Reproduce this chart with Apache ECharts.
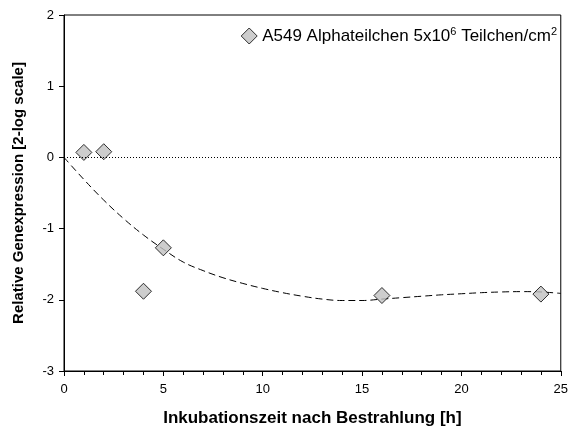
<!DOCTYPE html>
<html><head><meta charset="utf-8">
<script src="https://cdn.jsdelivr.net/npm/echarts@6/dist/echarts.min.js"></script>
<style>html,body{margin:0;padding:0;background:#fff}#c{width:571px;height:432px}</style>
</head><body><div id="c"></div>
<script>
const seriesName = 'A549 Alphateilchen 5x10^6 Teilchen/cm^2';
const pointX = [1, 2, 4, 5, 16, 24];
const pointY = [0.07, 0.08, -1.88, -1.27, -1.94, -1.92];
const curveX = [0,1,2,3,4,5,6,7,8,9,10,11,12,13,14,15,16,17,18,19,20,21,22,23,24,25];
const curveY = [0,-0.31,-0.6,-0.86,-1.09,-1.29,-1.47,-1.59,-1.69,-1.77,-1.84,-1.9,-1.95,-1.99,-2.01,-2.01,-1.99,-1.97,-1.95,-1.93,-1.915,-1.9,-1.89,-1.885,-1.89,-1.91];
const xTicks = [0,5,10,15,20,25];
const yTicks = [-3,-2,-1,0,1,2];
const refY = 0;

const chart = echarts.init(document.getElementById('c'));
const font = 'Liberation Sans, Arial, sans-serif';
chart.setOption({
  animation: false,
  grid: {left: 64, right: 10, top: 15, bottom: 57, show: true, borderColor: '#000', borderWidth: 1},
  legend: {
    show: true, right: 9, top: 21, itemGap: 0,
    data: [seriesName],
    itemWidth: 16, itemHeight: 16,
    itemStyle: {borderWidth: 1, borderColor: '#000', color: '#c0c0c0'},
    formatter: () => '{a|A549 Alphateilchen 5x10}{s|6}{a| Teilchen/cm}{s|2}',
    textStyle: {
      fontFamily: font, fontSize: 17, color: '#000',
      rich: {
        a: {fontFamily: font, fontSize: 17, color: '#000'},
        s: {fontFamily: font, fontSize: 11, color: '#000', verticalAlign: 'top', padding: [0,0,9,0]}
      }
    }
  },
  xAxis: {
    type: 'value', min: xTicks[0], max: xTicks[xTicks.length-1], interval: 5,
    name: 'Inkubationszeit nach Bestrahlung [h]', nameLocation: 'middle', nameGap: 39,
    nameTextStyle: {fontFamily: font, fontSize: 17, fontWeight: 'bold', color: '#000'},
    axisLine: {onZero: false, lineStyle: {color: '#000', width: 1}},
    axisTick: {show: true, length: 5, lineStyle: {color: '#000'}},
    minorTick: {show: true, splitNumber: 5, length: 4, lineStyle: {color: '#000'}},
    axisLabel: {fontFamily: font, fontSize: 13, color: '#000', margin: 12},
    splitLine: {show: false}
  },
  yAxis: {
    type: 'value', min: yTicks[0], max: yTicks[yTicks.length-1], interval: 1,
    name: 'Relative Genexpression [2-log scale]', nameLocation: 'middle', nameGap: 38,
    nameTextStyle: {fontFamily: font, fontSize: 15, fontWeight: 'bold', color: '#000'},
    axisLine: {onZero: false, lineStyle: {color: '#000', width: 1}},
    axisTick: {show: true, length: 5, lineStyle: {color: '#000'}},
    axisLabel: {fontFamily: font, fontSize: 13, color: '#000', margin: 10},
    splitLine: {show: false}
  },
  series: [
    {
      type: 'line', name: 'fit', data: curveX.map((x,i)=>[x, curveY[i]]),
      smooth: 0.4, showSymbol: false, symbol: 'none', z: 2,
      lineStyle: {color: '#000', width: 1, type: [7,4]},
      markLine: {
        silent: true, symbol: 'none', label: {show: false},
        lineStyle: {color: '#000', width: 1, type: [1,2]},
        data: [{yAxis: refY}]
      }
    },
    {
      type: 'scatter', name: seriesName, data: pointX.map((x,i)=>[x, pointY[i]]),
      symbol: 'diamond', symbolSize: 16, z: 3,
      itemStyle: {color: '#c0c0c0', borderColor: '#000', borderWidth: 1}
    }
  ]
});
</script></body></html>
